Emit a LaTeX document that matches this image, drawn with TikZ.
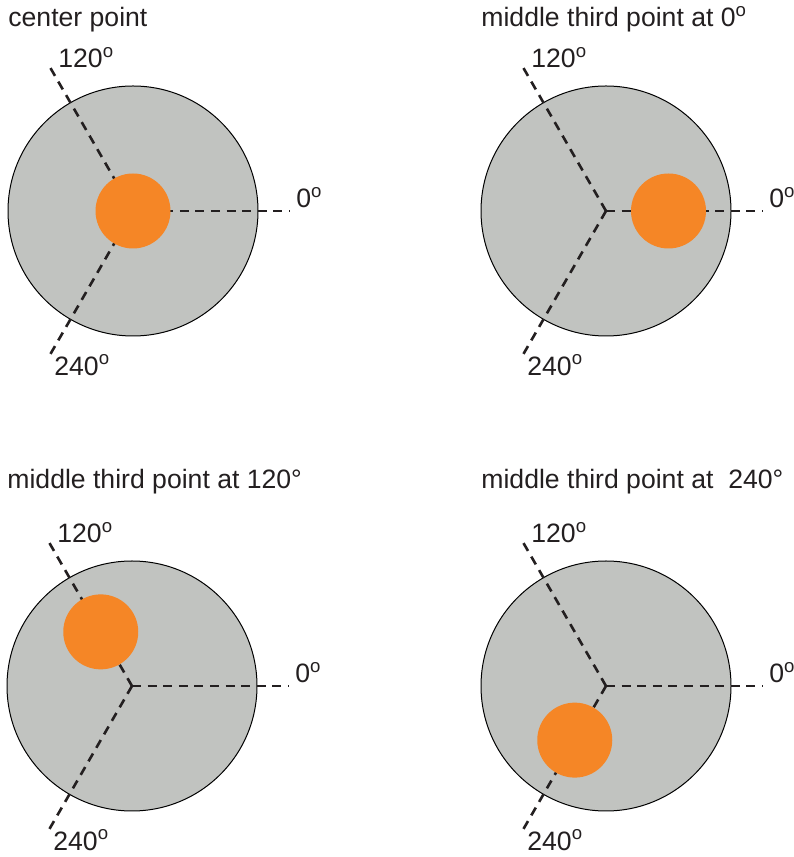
\documentclass[tikz,border=0pt]{standalone}
\usepackage{fontspec}
\setmainfont{Liberation Sans}
\usetikzlibrary{calc}

\definecolor{discgray}{RGB}{193,195,192}
\definecolor{dotorange}{RGB}{245,134,38}
\definecolor{inkdark}{RGB}{35,31,32}

\begin{document}
\begin{tikzpicture}[x=0.5pt, y=0.5pt,
    disc/.style={draw=black, line width=0.5pt, fill=discgray},
    dot/.style={fill=dotorange},
    axisline/.style={line width=1.3pt, dash pattern=on 4.5pt off 3.3pt, draw=inkdark},
    lbl/.style={inner sep=0pt, anchor=base west, text=inkdark, font=\fontsize{13.3}{15}\selectfont}]

%okvir slike
\useasboundingbox (0,0) rectangle (793,857);

%cetiri kruga s osima
\foreach \p/\cx/\cy/\ty/\dang/\doff/\ttl in {
    a/133/646/830/0/0/{center point},
    b/606/646/830/0/62.5/{middle third point at 0\textsuperscript{o}},
    c/132/171/368/120/62.5/{middle third point at 120°},
    d/606/171/368/240/62.5/{middle third point at\ \ 240°}} {
  \coordinate (\p c) at (\cx,\cy);
  \coordinate (\p0) at ($(\p c)+(157,0)$);
  \coordinate (\p120) at ($(\p c)+(120:170)$);
  \coordinate (\p240) at ($(\p c)+(240:170)$);
  \coordinate (\p dot) at ($(\p c)+(\dang:\doff)$);

  %naslov
  \node[lbl] (\p title) at (\cx-125,\ty) {\ttl};

  %sivi krug
  \draw[disc] (\p c) circle (125);

  %crtkane osi
  \draw[axisline] (\p c) -- (\p0);
  \draw[axisline] (\p c) -- (\p120);
  \draw[axisline] (\p c) -- (\p240);

  %oznake kutova
  \node[lbl] (\p l0) at ($(\p0)+(6,3)$) {0\textsuperscript{o}};
  \node[lbl] (\p l120) at ($(\p120)+(10,-4)$) {120\textsuperscript{o}};
  \node[lbl] (\p l240) at ($(\p240)+(6,-17)$) {240\textsuperscript{o}};

  %narancasta tocka
  \fill[dot] (\p dot) circle (37.5);
}

\end{tikzpicture}
\end{document}
